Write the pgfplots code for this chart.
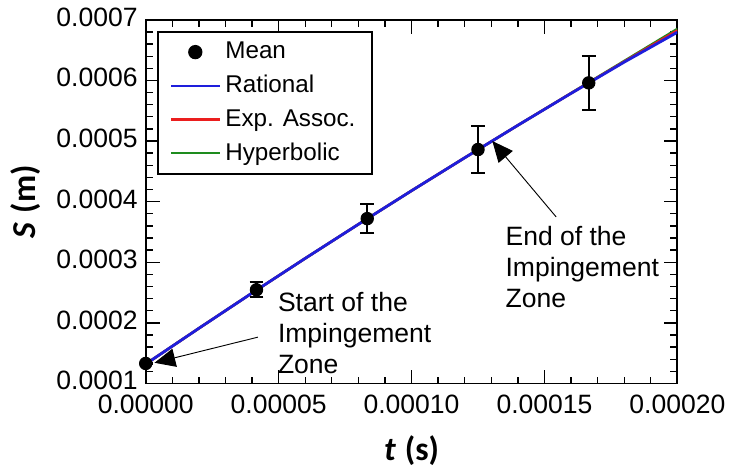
\documentclass[border=0pt]{standalone}
\usepackage{pgfplots}
\pgfplotsset{compat=1.18}
\usepackage{fontspec}
\setmainfont{Liberation Sans}
\newfontfamily\carlito{Carlito}
\usetikzlibrary{arrows.meta}

% mean values with standard deviation
\pgfplotstableread{
t          S          e
0.0        0.000133   0.0
0.00004167 0.0002545  0.0000125
0.00008333 0.000372   0.0000236
0.000125   0.000486   0.000039
0.00016667 0.000596   0.0000447
}\meandata

\begin{document}
\begin{tikzpicture}
\begin{axis}[
    scale only axis,
    width=8.1cm, height=5.54cm,
    xmin=0, xmax=0.0002,
    ymin=0.0001, ymax=0.0007,
    xtick={0,0.00005,0.0001,0.00015,0.0002},
    ytick={0.0001,0.0002,0.0003,0.0004,0.0005,0.0006,0.0007},
    minor x tick num=4, minor y tick num=4,
    tick align=inside,
    major tick length=6pt, minor tick length=3pt,
    tick style={black, line width=0.6pt},
    axis line style={line width=0.8pt},
    scaled ticks=false,
    /pgf/number format/assume math mode=true,
    xticklabel style={yshift=-1.5pt, /pgf/number format/.cd, fixed, fixed zerofill, precision=5},
    yticklabel style={yshift=1.2pt, /pgf/number format/.cd, fixed, fixed zerofill, precision=4},
    ticklabel style={font=\fontsize{11.5}{13}\selectfont},
    xlabel={{\carlito\bfseries\itshape t} {\carlito\bfseries (s)}},
    ylabel={{\carlito\bfseries\itshape S} {\carlito\bfseries (m)}},
    label style={font=\fontsize{14.5}{16}\selectfont},
    xlabel style={yshift=-2.5pt},
    legend cell align=left,
    legend style={at={(0.022,0.97)}, anchor=north west, draw=black,
        line width=0.8pt, font=\fontsize{10.5}{12}\selectfont,
        row sep=1.7pt, inner xsep=5pt, inner ysep=2.5pt,
        /tikz/every even column/.append style={column sep=7pt}},
    legend image code/.code={\draw[#1, line width=1pt] (0cm,0cm) -- (0.74cm,0cm);},
]
% fitted curves (green and red drawn under blue)
\addplot[forget plot, color={rgb,255:red,30;green,140;blue,30}, line width=1.1pt] coordinates {
(0,0.000132) (0.00002,0.000191) (0.00004,0.0002492) (0.00006,0.0003064)
(0.00008,0.0003626) (0.0001,0.000418) (0.00012,0.0004724) (0.00014,0.000526)
(0.00016,0.000579) (0.00018,0.000632) (0.0002,0.000685)};
\addplot[forget plot, color={rgb,255:red,235;green,30;blue,30}, line width=1.1pt] coordinates {
(0,0.000132) (0.00002,0.000191) (0.00004,0.0002492) (0.00006,0.0003064)
(0.00008,0.0003626) (0.0001,0.000418) (0.00012,0.0004724) (0.00014,0.000526)
(0.00016,0.0005788) (0.00018,0.000631) (0.0002,0.0006825)};
\addplot[forget plot, color={rgb,255:red,30;green,30;blue,220}, line width=1.2pt] coordinates {
(0,0.000132) (0.00002,0.000191) (0.00004,0.0002492) (0.00006,0.0003064)
(0.00008,0.0003626) (0.0001,0.000418) (0.00012,0.0004724) (0.00014,0.000526)
(0.00016,0.0005786) (0.00018,0.0006302) (0.0002,0.0006795)};
% means
\addplot[forget plot, only marks, mark=*, mark size=2.7pt, black,
    error bars/.cd, y dir=both, y explicit,
    error bar style={line width=0.9pt},
    error mark options={rotate=90, mark size=3pt, line width=0.9pt}]
    table[x=t, y=S, y error=e] {\meandata};
% legend
\addlegendimage{only marks, mark=*, mark size=2.7pt, black,
    legend image code/.code={\fill (0.37cm,0cm) circle (2.7pt);}}
\addlegendentry{Mean}
\addlegendimage{color={rgb,255:red,30;green,30;blue,220}}
\addlegendentry{Rational}
\addlegendimage{color={rgb,255:red,235;green,30;blue,30}}
\addlegendentry{Exp. Assoc.}
\addlegendimage{color={rgb,255:red,30;green,140;blue,30}}
\addlegendentry{Hyperbolic}
% annotations
\draw[line width=0.4pt, -{Triangle[length=9pt, width=8pt]}]
    (axis cs:0.0000422,0.0001764) -- (axis cs:0.0000033,0.0001341);
\node[anchor=north west, align=left, inner sep=0pt,
    font=\fontsize{11.5}{13.5}\selectfont]
    at (axis cs:0.0000496,0.0002512) {Start of the\\Impingement\\Zone};
\draw[line width=0.4pt, -{Triangle[length=9pt, width=8pt]}]
    (axis cs:0.0001544,0.0003748) -- (axis cs:0.0001304,0.0005);
\node[anchor=north west, align=left, inner sep=0pt,
    font=\fontsize{11.5}{13.5}\selectfont]
    at (axis cs:0.0001352,0.00036) {End of the\\Impingement\\Zone};
\end{axis}
\path ([xshift=-2.22cm,yshift=-1.26cm]current axis.south west)
    rectangle ([xshift=0.68cm,yshift=0.29cm]current axis.north east);
\end{tikzpicture}
\end{document}
